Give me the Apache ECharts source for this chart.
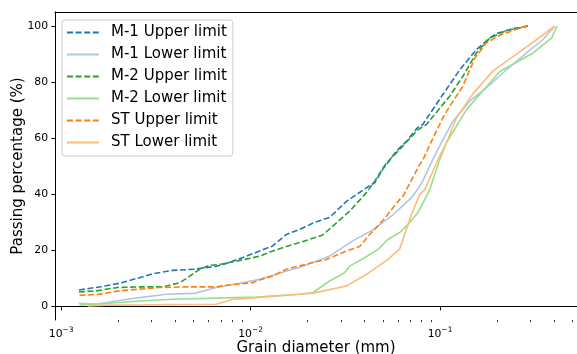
<!DOCTYPE html>
<html><head><meta charset="utf-8">
<script src="https://cdn.jsdelivr.net/npm/echarts@6/dist/echarts.min.js"></script>
<style>html,body{margin:0;padding:0;background:#fff}#c{width:577px;height:354px}</style>
</head><body><div id="c"></div>
<script>
// ---- data (grain diameter in mm, passing percentage in %) ----
const seriesNames = ['M-1 Upper limit','M-1 Lower limit','M-2 Upper limit','M-2 Lower limit','ST Upper limit','ST Lower limit'];

const m1UpperD = [0.00124,0.00159,0.00203,0.00259,0.00304,0.00387,0.00506,0.00661,0.00747,0.00953,0.01116,0.01307,0.01544,0.01815,0.02178,0.02614,0.03204,0.04342,0.04519,0.04982,0.05886,0.06647,0.07626,0.0810,0.1033,0.1271,0.1557,0.1830,0.1986,0.2422,0.2906];
const m1UpperP = [5.9,7.0,8.3,10.3,11.7,12.9,13.3,14.4,15.4,18.0,19.8,21.6,25.7,27.5,30.0,31.8,37.5,43.5,44.1,48.9,55.4,58.9,63.8,64.9,75.5,84.4,91.6,95.7,97.3,99.0,100];

const m1LowerD = [0.00124,0.00153,0.00195,0.00259,0.00359,0.00506,0.00659,0.00875,0.01116,0.01667,0.01815,0.02614,0.03458,0.04342,0.05535,0.07064,0.07812,0.08103,0.09151,0.1017,0.1167,0.1435,0.1830,0.2243,0.2860,0.3487,0.4035];
const m1LowerP = [1.2,0.8,2.0,3.2,4.4,4.7,6.8,8.3,9.7,13.3,13.9,18.0,23.4,27.0,32.2,38.8,42.9,44.7,52.4,58.4,66.0,73.2,79.0,84.4,90.4,95.1,99.9];

const m2UpperD = [0.00124,0.00153,0.00198,0.00259,0.00343,0.00422,0.00465,0.00538,0.00607,0.00686,0.0084,0.01025,0.01116,0.01307,0.01544,0.01815,0.02401,0.03334,0.04086,0.04519,0.05211,0.06126,0.07626,0.08476,0.1125,0.1318,0.1557,0.1830,0.2243,0.2906];
const m2UpperP = [5.2,5.6,6.8,7.0,7.0,8.5,10.3,13.3,14.7,15.0,16.2,17.4,18.0,19.8,21.4,22.8,25.5,34.0,40.6,44.7,51.2,56.0,63.0,64.9,75.0,82.0,90.4,95.7,98.4,99.9];

const m2LowerD = [0.00125,0.00173,0.00259,0.00387,0.00659,0.01072,0.01815,0.02134,0.02614,0.03138,0.03334,0.04002,0.04704,0.05314,0.06126,0.06777,0.07652,0.08823,0.09963,0.1081,0.1379,0.2068,0.3099,0.3877,0.4150];
const m2LowerP = [0.6,1.1,2.0,2.6,3.0,3.4,4.4,5.0,9.1,12.1,14.4,17.4,20.4,24.0,26.4,29.3,33.5,41.7,52.4,58.4,70.2,83.8,90.4,95.7,100];

const stUpperD = [0.00125,0.00159,0.00203,0.00259,0.00331,0.00457,0.00659,0.00744,0.01025,0.01116,0.01307,0.01544,0.01815,0.02134,0.02511,0.03204,0.03765,0.04253,0.04519,0.05211,0.06126,0.06377,0.07812,0.08133,0.09008,0.1059,0.1318,0.1525,0.1758,0.2068,0.2735,0.2871];
const stUpperP = [4.0,4.4,5.6,6.2,6.8,7.0,7.0,7.6,8.5,9.5,10.9,13.3,14.5,15.7,16.8,19.8,21.4,25.7,27.5,32.2,38.2,39.4,50.6,52.4,58.9,68.6,78.5,88.5,94.0,96.7,99.6,100];

const stLowerD = [0.00138,0.00173,0.00281,0.00387,0.00659,0.00803,0.01072,0.01815,0.02134,0.03204,0.04086,0.05314,0.06126,0.07064,0.07812,0.08303,0.09759,0.1081,0.1221,0.1494,0.1906,0.2533,0.3231,0.4035];
const stLowerP = [0.2,0.5,0.6,0.7,0.8,2.6,3.2,4.4,4.8,7.3,11.5,16.8,20.5,32.8,40.0,41.7,52.4,58.4,67.3,75.9,84.0,90.0,95.1,100];

const xMajorExps = [-3,-2,-1];
const yTickValues = [0,20,40,60,80,100];
const xLabel = 'Grain diameter (mm)';
const yLabel = 'Passing percentage (%)';

// ---- build ----
const colors = ['#1f77b4','#aec7e8','#2ca02c','#98df8a','#ff7f0e','#ffbb78'];
const dashed = [true,false,true,false,true,false];
const allD = [m1UpperD,m1LowerD,m2UpperD,m2LowerD,stUpperD,stLowerD];
const allP = [m1UpperP,m1LowerP,m2UpperP,m2LowerP,stUpperP,stLowerP];

let lo = Infinity, hi = -Infinity, pLo = Infinity, pHi = -Infinity;
allD.forEach(a => a.forEach(v => { const l = Math.log10(v); lo = Math.min(lo,l); hi = Math.max(hi,l); }));
allP.forEach(a => a.forEach(v => { pLo = Math.min(pLo,v); pHi = Math.max(pHi,v); }));
const xMin = lo - 0.05*(hi-lo);
const xFullMax = hi + 0.05*(hi-lo);
// the original figure is cropped at the right: only 522 of 526 px of the axes are visible
const GRID_W_FULL = 526, GRID_W = 522;
const xMax = xMin + (xFullMax - xMin) * GRID_W / GRID_W_FULL;
const yMin = pLo - 0.05*(pHi-pLo), yMax = pHi + 0.05*(pHi-pLo);

const minorVals = [];
for (let n = -4; n <= 0; n++) for (let k = 2; k <= 9; k++) {
  const l = Math.log10(k) + n;
  if (l >= xMin && l <= xMax) minorVals.push(l);
}

const FONT = 'DejaVu Sans';
const series = seriesNames.map((name,i) => ({
  name, type:'line', xAxisIndex:0, yAxisIndex:0,
  data: allD[i].map((d,j) => [Math.log10(d), allP[i][j]]),
  symbol:'none', showSymbol:false, smooth:false,
  lineStyle:{color:colors[i], width:1.6, type: dashed[i] ? [6,2.6] : 'solid'},
  itemStyle:{color:colors[i]},
  emphasis:{disabled:true}
}));

const chart = echarts.init(document.getElementById('c'), null, {renderer:'canvas'});
chart.setOption({
  animation:false,
  backgroundColor:'#fff',
  grid:{left:55, top:12, width:GRID_W, height:308, containLabel:false, outerBoundsMode:'none', show:false},
  legend:{
    orient:'vertical', left:62, top:20,
    data: seriesNames,
    itemWidth:32, itemHeight:15, itemGap:7,
    padding:[5,6,6,4],
    backgroundColor:'rgba(255,255,255,0.8)', borderColor:'#cccccc', borderWidth:1, borderRadius:3,
    itemStyle:{opacity:0},
    textStyle:{fontFamily:FONT, fontSize:15, lineHeight:15, color:'#000', padding:[0,0,0,7]},
    selectedMode:false
  },
  xAxis:[{
    type:'value', min:xMin, max:xMax, position:'bottom',
    axisLine:{show:true, lineStyle:{color:'#000', width:1}},
    axisTick:{show:true, length:3.8, lineStyle:{color:'#000', width:1}, customValues:xMajorExps},
    axisLabel:{show:true, margin:6, customValues:xMajorExps,
      formatter: v => '{a|10}{b|' + String(Math.round(v)).replace('-','−') + '}',
      rich:{a:{fontFamily:FONT, fontSize:10.8, color:'#000', lineHeight:14, verticalAlign:'bottom'},
            b:{fontFamily:FONT, fontSize:7.5, color:'#000', verticalAlign:'top'}}},
    splitLine:{show:false},
    name:xLabel, nameLocation:'middle', nameGap:21, nameMoveOverlap:false,
    nameTextStyle:{fontFamily:FONT, fontSize:15, color:'#000'}
  },{
    type:'value', min:xMin, max:xMax, position:'bottom',
    axisLine:{show:false},
    axisTick:{show:true, length:2.2, lineStyle:{color:'#000', width:0.8}, customValues:minorVals},
    axisLabel:{show:false}, splitLine:{show:false}
  },{
    type:'value', min:xMin, max:xMax, position:'top',
    axisLine:{show:true, lineStyle:{color:'#000', width:1}},
    axisTick:{show:false}, axisLabel:{show:false}, splitLine:{show:false}
  }],
  yAxis:[{
    type:'value', min:yMin, max:yMax,
    axisLine:{show:true, lineStyle:{color:'#000', width:1}},
    axisTick:{show:true, length:3.8, lineStyle:{color:'#000', width:1}, customValues:yTickValues},
    axisLabel:{show:true, margin:7, customValues:yTickValues, fontFamily:FONT, fontSize:10.8, color:'#000'},
    splitLine:{show:false},
    name:yLabel, nameLocation:'middle', nameGap:29, nameMoveOverlap:false,
    nameTextStyle:{fontFamily:FONT, fontSize:15, color:'#000'}
  }],
  series
});
</script></body></html>
